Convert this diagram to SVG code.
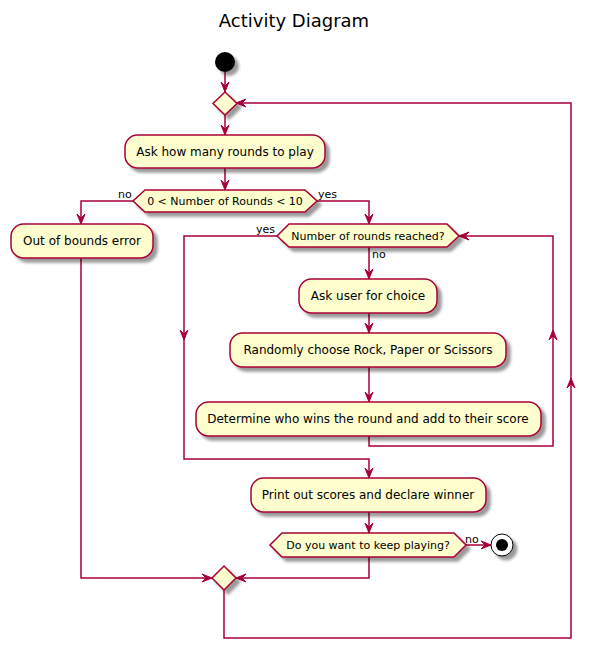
<svg xmlns="http://www.w3.org/2000/svg" width="595" height="649" viewBox="0 0 595 649">
<style>
.n{fill:#FEFECE;stroke:#A80036;stroke-width:1.5;filter:url(#sh)}
.t{font-family:"DejaVu Sans",sans-serif;font-size:12px;fill:#000;text-anchor:middle}
.d{font-family:"DejaVu Sans",sans-serif;font-size:11px;fill:#000;text-anchor:middle}
.l{font-family:"DejaVu Sans",sans-serif;font-size:11px;fill:#000}
.c{fill:none;stroke:#A80036;stroke-width:1.5}
.a{fill:#A80036;stroke:#A80036;stroke-width:1}
</style>
<defs>
<filter id="sh" x="-20%" y="-20%" width="150%" height="160%">
<feGaussianBlur in="SourceAlpha" stdDeviation="1.7"/>
<feOffset dx="4" dy="4" result="b"/>
<feComponentTransfer><feFuncA type="linear" slope="0.4"/></feComponentTransfer>
<feMerge><feMergeNode/><feMergeNode in="SourceGraphic"/></feMerge>
</filter>
<path id="ah" d="M-4,-10 L0,0 L4,-10 L0,-6 Z"/>
</defs>
<text x="294" y="27" font-family="DejaVu Sans,sans-serif" font-size="18" text-anchor="middle">Activity Diagram</text>

<g id="connectors">
<path class="c" d="M225,72 V92"/>
<path class="c" d="M225,115 V135"/>
<path class="c" d="M225,168 V190"/>
<path class="c" d="M133,201 H81 V224"/>
<path class="c" d="M317,201 H369 V224"/>
<path class="c" d="M277,236 H184 V459 H369 V478"/>
<path class="c" d="M369,247 V279"/>
<path class="c" d="M369,313 V333"/>
<path class="c" d="M369,367 V402"/>
<path class="c" d="M369,436 V446 H553 V236 H459"/>
<path class="c" d="M369,512 V533"/>
<path class="c" d="M466,545 H491"/>
<path class="c" d="M369,557 V578 H236"/>
<path class="c" d="M81,258 V578 H212"/>
<path class="c" d="M224,590 V638 H571 V103 H236"/>
<use href="#ah" class="a" transform="translate(225,92)"/>
<use href="#ah" class="a" transform="translate(225,135)"/>
<use href="#ah" class="a" transform="translate(225,190)"/>
<use href="#ah" class="a" transform="translate(81,224)"/>
<use href="#ah" class="a" transform="translate(369,224)"/>
<use href="#ah" class="a" transform="translate(184,340)"/>
<use href="#ah" class="a" transform="translate(369,478)"/>
<use href="#ah" class="a" transform="translate(369,279)"/>
<use href="#ah" class="a" transform="translate(369,333)"/>
<use href="#ah" class="a" transform="translate(369,402)"/>
<use href="#ah" class="a" transform="translate(553,330) rotate(180)"/>
<use href="#ah" class="a" transform="translate(459,236) rotate(90)"/>
<use href="#ah" class="a" transform="translate(369,533)"/>
<use href="#ah" class="a" transform="translate(491,545) rotate(-90)"/>
<use href="#ah" class="a" transform="translate(236,578) rotate(90)"/>
<use href="#ah" class="a" transform="translate(212,578) rotate(-90)"/>
<use href="#ah" class="a" transform="translate(571,378) rotate(180)"/>
<use href="#ah" class="a" transform="translate(236,103) rotate(90)"/>
<text class="l" x="118" y="198">no</text>
<text class="l" x="318" y="198">yes</text>
<text class="l" x="256" y="233">yes</text>
<text class="l" x="372" y="258">no</text>
<text class="l" x="465" y="543">no</text>
</g>

<g id="start"><circle cx="225" cy="62" r="10" fill="#000" filter="url(#sh)"/></g>
<g id="merge1"><polygon class="n" points="225,92 237,103.5 225,115 213,103.5"/></g>
<g id="askRounds"><rect class="n" x="125" y="135" width="200" height="33" rx="12.5"/><text class="t" x="225" y="156">Ask how many rounds to play</text></g>
<g id="checkRounds"><polygon class="n" points="145,190 305,190 317,201 305,212 145,212 133,201"/><text class="d" x="225" y="205">0 &lt; Number of Rounds &lt; 10</text></g>
<g id="outOfBounds"><rect class="n" x="11" y="224" width="142" height="34" rx="12.5"/><text class="t" x="82" y="245">Out of bounds error</text></g>
<g id="roundsReached"><polygon class="n" points="289,224 447,224 459,236 447,247 289,247 277,236"/><text class="d" x="368" y="240">Number of rounds reached?</text></g>
<g id="askChoice"><rect class="n" x="299" y="279" width="138" height="34" rx="12.5"/><text class="t" x="368" y="300">Ask user for choice</text></g>
<g id="randomChoice"><rect class="n" x="230" y="333" width="276" height="34" rx="12.5"/><text class="t" x="368" y="354">Randomly choose Rock, Paper or Scissors</text></g>
<g id="determine"><rect class="n" x="196" y="402" width="345" height="34" rx="12.5"/><text class="t" x="368" y="423">Determine who wins the round and add to their score</text></g>
<g id="printScores"><rect class="n" x="251" y="478" width="235" height="34" rx="12.5"/><text class="t" x="368" y="499">Print out scores and declare winner</text></g>
<g id="keepPlaying"><polygon class="n" points="282,533 454,533 466,545 454,557 282,557 270,545"/><text class="d" x="368" y="549">Do you want to keep playing?</text></g>
<g id="end"><circle cx="502" cy="545" r="11" fill="#fff" stroke="#000" stroke-width="1" filter="url(#sh)"/><circle cx="502" cy="545" r="6" fill="#000"/></g>
<g id="merge2"><polygon class="n" points="224,566 236,578 224,590 212,578"/></g>
</svg>
